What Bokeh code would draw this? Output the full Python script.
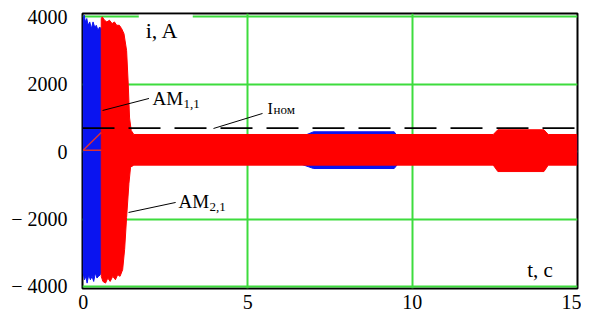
from bokeh.plotting import figure
from bokeh.models import Range1d, FixedTicker, Span, Label, BoxAnnotation
from bokeh.embed import file_html
from bokeh.resources import INLINE

# ---- data ----
# AM1,1 current envelope (blue)
blue_t_up = [0.0, 0.03, 0.07, 0.11, 0.15, 0.2, 0.25, 0.3, 0.35, 0.4, 0.45, 0.5, 0.55,
             0.56, 6.65, 7.0, 9.45, 9.55, 15.0]
blue_up = [3950, 4050, 3850, 3950, 3750, 3850, 3650, 3850, 3700, 3750, 3600, 3700, 3650,
           450, 450, 590, 590, 450, 450]
blue_t_lo = [0.0, 0.04, 0.08, 0.12, 0.17, 0.22, 0.27, 0.32, 0.37, 0.42, 0.47, 0.52, 0.55,
             0.56, 6.65, 7.0, 9.45, 9.55, 15.0]
blue_lo = [-3600, -3800, -3700, -3900, -3650, -3800, -3700, -3850, -3600, -3750, -3700, -3650, -3600,
           -380, -380, -500, -500, -380, -380]

# AM2,1 current envelope (red)
red_t_up = [0.55, 0.58, 0.65, 0.72, 0.8, 0.88, 0.95, 1.02, 1.1, 1.17, 1.24, 1.32, 1.37, 1.41,
            1.46, 1.54, 12.46, 12.6, 14.0, 14.13, 15.0]
red_up = [3950, 4000, 3900, 3850, 3900, 3800, 3850, 3750, 3750, 3650, 3500, 3000, 2000, 1000,
          630, 510, 510, 650, 650, 510, 510]
red_t_lo = [0.55, 0.6, 0.68, 0.75, 0.82, 0.9, 0.98, 1.05, 1.12, 1.2, 1.26, 1.32, 1.39, 1.44,
            1.54, 12.46, 12.6, 14.0, 14.13, 15.0]
red_lo = [-3700, -3850, -3900, -3750, -3850, -3700, -3800, -3650, -3700, -3500, -2900, -1950, -950, -460,
          -400, -400, -590, -590, -400, -400]
# red trace start segments near origin
red_start_t = [0.0, 0.55]
red_start_diag = [40, 570]
red_start_flat = [40, 40]

I_nom = 700

x_ticks = [0, 5, 10, 15]
y_ticks = [-4000, -2000, 0, 2000, 4000]
y_tick_labels = ["\u2212 4000", "\u2212 2000", "0", "2000", "4000"]
x_tick_labels = ["0", "5", "10", "15"]

FONT = "Liberation Serif"
GREEN = "#3ddc3d"

p = figure(frame_width=495, frame_height=275, output_backend="svg", toolbar_location=None,
           x_range=Range1d(-0.02, 15.02), y_range=Range1d(-4060, 4100))
p.min_border_left = 82
p.min_border_top = 13
p.min_border_right = 4
p.min_border_bottom = 30
p.background_fill_color = "white"
p.border_fill_color = "white"
p.outline_line_color = "black"
p.outline_line_width = 2

# grid
p.xgrid.ticker = FixedTicker(ticks=[5, 10])
p.ygrid.ticker = FixedTicker(ticks=y_ticks)
for g in (p.xgrid, p.ygrid):
    g.grid_line_color = GREEN
    g.grid_line_width = 2

# axes
p.xaxis.ticker = FixedTicker(ticks=x_ticks)
p.yaxis.ticker = FixedTicker(ticks=y_ticks)
p.xaxis.major_label_overrides = {t: s for t, s in zip(x_ticks, x_tick_labels)}
p.yaxis.major_label_overrides = {t: s for t, s in zip(y_ticks, y_tick_labels)}
for ax in (p.xaxis, p.yaxis):
    ax.axis_line_color = None
    ax.major_tick_line_color = None
    ax.minor_tick_line_color = None
    ax.major_label_text_font = FONT
    ax.major_label_text_font_size = "20px"
    ax.major_label_text_color = "black"
p.yaxis.major_label_standoff = 9
p.xaxis.major_label_standoff = 0

# blue envelope
p.patch(blue_t_up + blue_t_lo[::-1], blue_up + blue_lo[::-1],
        fill_color="#0a14f0", line_color="#0a14f0", line_width=1)
# red envelope
p.patch(red_t_up + red_t_lo[::-1], red_up + red_lo[::-1],
        fill_color="#ff0000", line_color="#ff0000", line_width=1)
p.line(red_start_t, red_start_diag, line_color="#e03030", line_width=1.5)
p.line(red_start_t, red_start_flat, line_color="#e03030", line_width=1.5)

# nominal current
p.add_layout(Span(location=I_nom, dimension="width", line_color="black",
                  line_width=1.8, line_dash="32 14"))

# leader lines
p.segment(x0=[0.59, 3.96, 1.38], y0=[1222, 688, -1804],
          x1=[2.0, 5.45, 2.81], y1=[1579, 1134, -1507],
          line_color="black", line_width=1)

# white gap in the top grid line behind the axis title
p.add_layout(BoxAnnotation(left=1.69, right=3.33, bottom=3850, top=4060,
                           fill_color="white", fill_alpha=1, line_color=None))

def lab(x, y, text, size, xoff=0):
    p.add_layout(Label(x=x, y=y, text=text, text_font=FONT, text_font_size=size,
                       text_color="black", text_baseline="middle", text_align="left",
                       x_offset=xoff))

lab(1.90, 3581, "i, A", "22px")
lab(13.49, -3522, "t, c", "21px")
lab(2.11, 1563, "AM", "19px")
lab(2.11, 1412, "1,1", "13px", xoff=31)
lab(2.90, -1493, "AM", "19px")
lab(2.90, -1644, "2,1", "13px", xoff=31)
lab(5.60, 1293, "I", "16px")
lab(5.60, 1264, "ном", "13px", xoff=6)

open("out.html", "w").write(file_html(p, INLINE))
